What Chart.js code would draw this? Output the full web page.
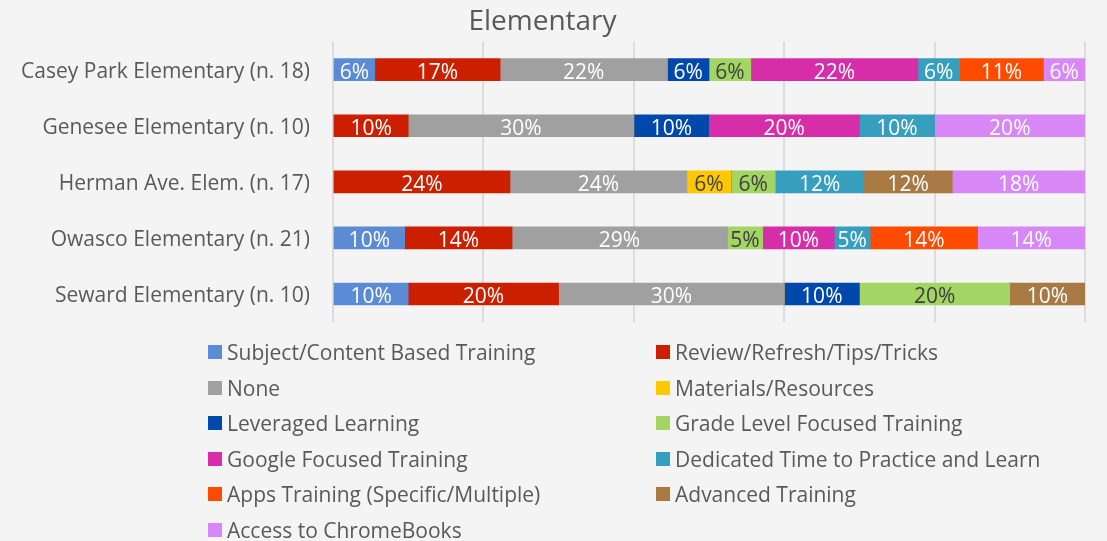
<!DOCTYPE html>
<html>
<head>
<meta charset="utf-8">
<script src="https://cdn.jsdelivr.net/npm/chart.js@4.4.1/dist/chart.umd.min.js"></script>
<style>
  html, body { margin:0; padding:0; background:#f4f4f4; }
  #wrap { position:relative; width:1107px; height:541px; background:#f4f4f4; overflow:hidden; }
  #c { position:absolute; left:0; top:0; }
  #legend { position:absolute; left:0; top:0; width:1107px; height:541px; pointer-events:none; }
  .li { position:absolute; font-family:"Open Sans", Lato, sans-serif; font-size:21px; color:#595959; white-space:nowrap; line-height:24px; }
  .li span.b { position:absolute; left:-19px; top:5px; width:14px; height:14px; }
</style>
</head>
<body>
<div id="wrap">
  <canvas id="c" width="1107" height="541"></canvas>
  <div id="legend"></div>
</div>
<script>
const categories = [
  "Casey Park Elementary (n. 18)",
  "Genesee Elementary (n. 10)",
  "Herman Ave. Elem. (n. 17)",
  "Owasco Elementary (n. 21)",
  "Seward Elementary (n. 10)"
];
const respondents = [18, 10, 17, 21, 10];

const subjectContent = [1, 0, 0, 2, 1];
const reviewRefresh  = [3, 1, 4, 3, 2];
const none           = [4, 3, 4, 6, 3];
const materials      = [0, 0, 1, 0, 0];
const leveraged      = [1, 1, 0, 0, 1];
const gradeLevel     = [1, 0, 1, 1, 2];
const googleFocused  = [4, 2, 0, 2, 0];
const dedicatedTime  = [1, 1, 2, 1, 0];
const appsTraining   = [2, 0, 0, 3, 0];
const advanced       = [0, 0, 2, 0, 1];
const chromebooks    = [1, 2, 3, 3, 0];

const seriesNames = [
  "Subject/Content Based Training", "Review/Refresh/Tips/Tricks", "None",
  "Materials/Resources", "Leveraged Learning", "Grade Level Focused Training",
  "Google Focused Training", "Dedicated Time to Practice and Learn",
  "Apps Training (Specific/Multiple)", "Advanced Training", "Access to ChromeBooks"
];
const seriesCounts = [subjectContent, reviewRefresh, none, materials, leveraged,
  gradeLevel, googleFocused, dedicatedTime, appsTraining, advanced, chromebooks];
const seriesColors = ["#5b8bd5", "#cc1f00", "#a0a0a0", "#ffc800", "#0048ab",
  "#a3d565", "#d62ea8", "#369fbf", "#ff4b00", "#a87942", "#d887f7"];
const labelColors = ["#fff", "#fff", "#fff", "#404040", "#fff",
  "#404040", "#fff", "#fff", "#fff", "#fff", "#fff"];

const FONT = '"Open Sans", Lato, sans-serif';

const datasets = seriesNames.map((name, i) => ({
  label: name,
  data: seriesCounts[i].map((v, j) => v / respondents[j] * 100),
  backgroundColor: seriesColors[i],
  borderWidth: 0,
  barThickness: 22,
  labelColor: labelColors[i]
}));

const valueLabels = {
  id: 'valueLabels',
  afterDatasetsDraw(chart) {
    const ctx = chart.ctx;
    ctx.save();
    ctx.font = '21px ' + FONT;
    ctx.textAlign = 'center';
    ctx.textBaseline = 'middle';
    chart.data.datasets.forEach((ds, i) => {
      const meta = chart.getDatasetMeta(i);
      meta.data.forEach((bar, j) => {
        const v = ds.data[j];
        if (!v) return;
        const cx = (bar.x + bar.base) / 2;
        ctx.fillStyle = ds.labelColor;
        ctx.fillText(Math.round(v) + '%', cx, bar.y + 3);
      });
    });
    ctx.restore();
  }
};

const chart = new Chart(document.getElementById('c'), {
  type: 'bar',
  data: { labels: categories, datasets },
  plugins: [valueLabels],
  options: {
    responsive: false,
    animation: false,
    indexAxis: 'y',
    layout: { padding: { left: 0, right: 22, top: 0, bottom: 219 } },
    plugins: {
      legend: { display: false },
      tooltip: { enabled: false },
      title: {
        display: true,
        text: 'Elementary',
        color: '#595959',
        font: { family: FONT, size: 28, weight: 'normal' },
        padding: { top: 5, bottom: 3 }
      }
    },
    scales: {
      x: {
        stacked: true,
        min: 0, max: 100,
        ticks: { display: false, stepSize: 20 },
        grid: { color: '#dcdcdc', lineWidth: 2, drawTicks: false },
        border: { display: false }
      },
      y: {
        stacked: true,
        grid: { display: false, drawTicks: false },
        border: { display: false },
        ticks: { color: '#595959', font: { family: FONT, size: 21 }, padding: 23, labelOffset: 2 },
        afterFit(scale) { scale.width = 333; }
      }
    }
  }
});

// HTML legend built from the chart's datasets, laid out in two columns
const legend = document.getElementById('legend');
chart.data.datasets.forEach((ds, i) => {
  const col = i % 2, row = Math.floor(i / 2);
  const d = document.createElement('div');
  d.className = 'li';
  d.style.left = (col === 0 ? 227 : 675) + 'px';
  d.style.top = (340 + row * 35.5) + 'px';
  d.innerHTML = '<span class="b" style="background:' + ds.backgroundColor + '"></span>';
  d.appendChild(document.createTextNode(ds.label));
  legend.appendChild(d);
});
</script>
</body>
</html>
